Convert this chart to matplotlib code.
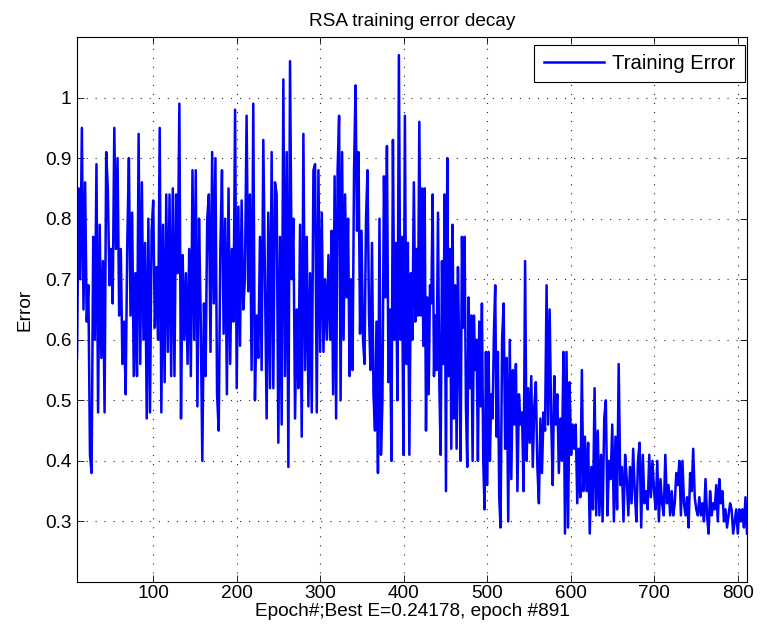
import numpy as np
import matplotlib.pyplot as plt
from matplotlib.ticker import FuncFormatter

# Error values, one list per block of ~100 epochs
err_b1 = [0.57, 0.85, 0.70, 0.95, 0.65, 0.86, 0.63, 0.69, 0.41, 0.38, 0.77, 0.60, 0.89, 0.48,
          0.79, 0.57, 0.73, 0.48, 0.91, 0.85, 0.69, 0.75, 0.66, 0.95, 0.75, 0.90, 0.64, 0.75,
          0.56, 0.63, 0.51, 0.76, 0.90, 0.64, 0.81, 0.54, 0.71, 0.54, 0.94, 0.56, 0.86, 0.60,
          0.76, 0.47, 0.80, 0.48, 0.78, 0.83, 0.62, 0.72, 0.60]
err_b2 = [0.95, 0.48, 0.79, 0.53, 0.84, 0.58, 0.84, 0.54, 0.85, 0.54, 0.84, 0.71, 0.99, 0.47,
          0.74, 0.60, 0.71, 0.56, 0.75, 0.54, 0.88, 0.60, 0.88, 0.49, 0.80, 0.64, 0.40, 0.66,
          0.54, 0.80, 0.84, 0.58, 0.91, 0.66, 0.90, 0.51, 0.45, 0.75, 0.88, 0.61, 0.80, 0.51,
          0.85, 0.56, 0.75, 0.63, 0.98, 0.52, 0.82, 0.59, 0.83, 0.65]
err_b3 = [0.70, 0.97, 0.68, 0.84, 0.55, 0.99, 0.50, 0.64, 0.57, 0.77, 0.55, 0.93, 0.70, 0.47,
          0.81, 0.52, 0.91, 0.52, 0.86, 0.84, 0.43, 0.77, 0.46, 1.03, 0.54, 0.91, 0.39, 1.06,
          0.70, 0.80, 0.47, 0.65, 0.52, 0.79, 0.44, 0.94, 0.55, 0.77, 0.49, 0.71, 0.48, 0.88,
          0.89, 0.48, 0.88, 0.58, 0.81, 0.58, 0.70, 0.60, 0.74]
err_b4 = [0.60, 0.78, 0.51, 0.87, 0.47, 0.88, 0.97, 0.50, 0.91, 0.60, 0.84, 0.67, 0.80, 0.54,
          0.70, 0.55, 0.88, 1.02, 0.78, 0.91, 0.61, 0.78, 0.60, 0.56, 0.80, 0.88, 0.64, 0.55,
          0.76, 0.51, 0.45, 0.63, 0.38, 0.80, 0.41, 0.50, 0.87, 0.67, 0.92, 0.53, 0.65, 0.40,
          0.93, 0.60, 0.76, 0.50, 1.07, 0.60, 0.77, 0.41, 0.97, 0.56, 0.76, 0.41, 0.71, 0.60,
          0.86]
err_b5 = [0.63, 0.75, 0.64, 0.96, 0.64, 0.85, 0.59, 0.85, 0.45, 0.67, 0.51, 0.69, 0.66, 0.84,
          0.54, 0.64, 0.55, 0.81, 0.53, 0.41, 0.73, 0.56, 0.84, 0.35, 0.90, 0.54, 0.75, 0.42,
          0.79, 0.47, 0.69, 0.42, 0.72, 0.57, 0.40, 0.77, 0.62, 0.77, 0.49, 0.39, 0.67, 0.52,
          0.64, 0.40, 0.64, 0.55, 0.60, 0.40, 0.63, 0.49, 0.66, 0.40, 0.32, 0.58, 0.36, 0.58,
          0.40, 0.51, 0.47, 0.61, 0.69, 0.44, 0.58, 0.34]
err_b6 = [0.29, 0.60, 0.66, 0.42, 0.57, 0.30, 0.60, 0.37, 0.55, 0.46, 0.56, 0.35, 0.51, 0.46,
          0.48, 0.35, 0.73, 0.40, 0.52, 0.43, 0.54, 0.39, 0.49, 0.53, 0.39, 0.33, 0.47, 0.38,
          0.48, 0.45, 0.69, 0.46, 0.65, 0.47, 0.36, 0.54, 0.46, 0.51, 0.38, 0.47, 0.40, 0.58,
          0.28, 0.58, 0.29, 0.53, 0.41, 0.46, 0.42, 0.46, 0.33, 0.42, 0.34, 0.55, 0.35]
err_b7 = [0.44, 0.35, 0.43, 0.28, 0.39, 0.32, 0.52, 0.31, 0.45, 0.31, 0.41, 0.30, 0.47, 0.50,
          0.31, 0.40, 0.37, 0.46, 0.30, 0.44, 0.32, 0.56, 0.36, 0.39, 0.30, 0.41, 0.37, 0.31,
          0.39, 0.33, 0.42, 0.35, 0.30, 0.40, 0.43, 0.29, 0.41, 0.33, 0.35, 0.32, 0.41, 0.34,
          0.40, 0.35, 0.32, 0.40, 0.30, 0.37, 0.33, 0.31, 0.41, 0.33, 0.36]
err_b8 = [0.31, 0.35, 0.31, 0.33, 0.38, 0.36, 0.40, 0.31, 0.40, 0.33, 0.31, 0.34, 0.29, 0.38,
          0.35, 0.42, 0.34, 0.32, 0.31, 0.34, 0.31, 0.33, 0.30, 0.37, 0.31, 0.28, 0.35, 0.31,
          0.33, 0.32, 0.36, 0.30, 0.37, 0.33, 0.35, 0.30, 0.32, 0.29, 0.31, 0.33, 0.32, 0.28,
          0.30, 0.32, 0.28, 0.32, 0.30, 0.32, 0.29, 0.34, 0.28]

blocks = [err_b1, err_b2, err_b3, err_b4, err_b5, err_b6, err_b7, err_b8]
# epoch where each block starts (last entry = final epoch)
block_edges = [9, 108, 210, 312, 414, 516, 617, 719, 811]

x_ticks = [100, 200, 300, 400, 500, 600, 700, 800]
y_ticks = [0.3, 0.4, 0.5, 0.6, 0.7, 0.8, 0.9, 1.0]

# armar la serie completa
epochs = []
errors = []
for i, b in enumerate(blocks):
    last = i == len(blocks) - 1
    ep = np.linspace(block_edges[i], block_edges[i + 1], len(b), endpoint=last)
    epochs.extend(ep)
    errors.extend(b)

plt.rcParams['font.family'] = ['Liberation Sans', 'DejaVu Sans']
plt.rcParams['lines.scale_dashes'] = False

fs = 13.7

fig = plt.figure(figsize=(7.67, 6.31), dpi=100)
ax = fig.add_axes([77 / 767, 1 - 582 / 631, 670 / 767, 545 / 631])

ax.plot(epochs, errors, color=(0, 0, 1), linewidth=1.8, label="Training Error")

ax.set_xlim(block_edges[0], block_edges[-1])
ax.set_ylim(0.2, 1.1)
ax.set_xticks(x_ticks)
ax.set_yticks(y_ticks)
ax.yaxis.set_major_formatter(FuncFormatter(lambda v, p: f"{v:g}"))
ax.tick_params(direction="in", top=True, right=True, labelsize=fs, length=5, width=0.6)
ax.tick_params(axis="x", pad=2)
ax.tick_params(axis="y", pad=4)
ax.grid(True, linestyle=(0, (0.8, 5.7)), color="0.15", linewidth=0.8)
for s in ax.spines.values():
    s.set_linewidth(0.8)

ax.set_title("RSA training error decay", fontsize=fs, pad=8)
ax.set_xlabel("Epoch#;Best E=0.24178, epoch #891", fontsize=fs, labelpad=1)
ax.set_ylabel("Error", fontsize=fs, labelpad=8)

leg = ax.legend(loc="upper right", fontsize=14.6, fancybox=False, framealpha=1,
                edgecolor="black", handlelength=3.0, handletextpad=0.4,
                borderpad=0.45, borderaxespad=0,
                bbox_to_anchor=(1 - 2 / 670, 1 - 8 / 545))
leg.get_frame().set_linewidth(0.8)

fig.savefig("out.png", dpi=100)
